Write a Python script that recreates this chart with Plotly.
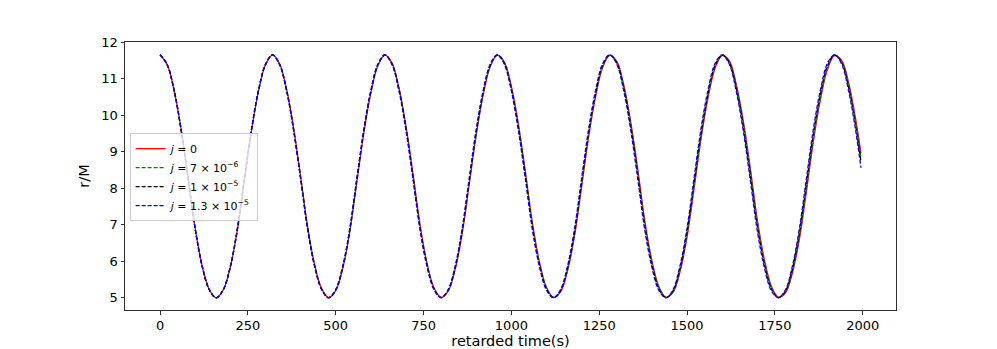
import plotly.graph_objects as go

# sample times (retarded time, s)
t = list(range(0, 1981, 20)) + [1995]

r_j0 = [11.650, 11.388, 10.680, 9.603, 8.275, 6.900, 5.869, 5.233, 5.001, 5.216,
        5.837, 6.852, 8.219, 9.554, 10.642, 11.369, 11.646, 11.408, 10.714, 9.651,
        8.331, 6.947, 5.906, 5.251, 5.005, 5.199, 5.806, 6.806, 8.161, 9.507,
        10.602, 11.349, 11.642, 11.428, 10.748, 9.699, 8.387, 6.994, 5.942, 5.268,
        5.009, 5.182, 5.776, 6.758, 8.103, 9.459, 10.562, 11.329, 11.639, 11.449,
        10.782, 9.748, 8.442, 7.042, 5.979, 5.285, 5.012, 5.165, 5.746, 6.711,
        8.044, 9.410, 10.522, 11.310, 11.634, 11.469, 10.816, 9.796, 8.498, 7.089,
        6.015, 5.302, 5.016, 5.147, 5.716, 6.663, 7.986, 9.363, 10.483, 11.290,
        11.630, 11.488, 10.849, 9.843, 8.553, 7.138, 6.052, 5.322, 5.019, 5.134,
        5.685, 6.619, 7.928, 9.310, 10.443, 11.263, 11.626, 11.500, 10.883, 9.887,
        8.950]

r_j7e6 = [11.650, 11.388, 10.679, 9.600, 8.271, 6.895, 5.865, 5.230, 5.001, 5.219,
          5.844, 6.863, 8.232, 9.567, 10.652, 11.375, 11.646, 11.401, 10.701, 9.632,
          8.309, 6.926, 5.891, 5.242, 5.004, 5.207, 5.823, 6.832, 8.192, 9.536,
          10.625, 11.362, 11.643, 11.416, 10.724, 9.665, 8.347, 6.956, 5.915, 5.253,
          5.008, 5.195, 5.804, 6.800, 8.152, 9.505, 10.598, 11.350, 11.641, 11.432,
          10.747, 9.698, 8.384, 6.988, 5.939, 5.263, 5.009, 5.182, 5.783, 6.767,
          8.111, 9.473, 10.571, 11.339, 11.638, 11.447, 10.770, 9.731, 8.421, 7.018,
          5.963, 5.273, 5.011, 5.168, 5.763, 6.734, 8.071, 9.443, 10.546, 11.328,
          11.637, 11.462, 10.793, 9.764, 8.458, 7.050, 5.987, 5.285, 5.013, 5.159,
          5.741, 6.704, 8.031, 9.407, 10.519, 11.310, 11.636, 11.470, 10.817, 9.796,
          8.837]

r_j1e5 = [11.650, 11.387, 10.677, 9.597, 8.266, 6.890, 5.861, 5.228, 5.001, 5.222,
          5.851, 6.874, 8.246, 9.581, 10.663, 11.382, 11.647, 11.394, 10.687, 9.613,
          8.285, 6.904, 5.875, 5.233, 5.004, 5.216, 5.841, 6.860, 8.225, 9.567,
          10.649, 11.376, 11.644, 11.403, 10.698, 9.629, 8.305, 6.918, 5.886, 5.237,
          5.006, 5.209, 5.832, 6.842, 8.203, 9.552, 10.635, 11.372, 11.644, 11.414,
          10.710, 9.647, 8.323, 6.931, 5.899, 5.240, 5.006, 5.200, 5.822, 6.826,
          8.181, 9.538, 10.621, 11.369, 11.643, 11.424, 10.723, 9.665, 8.343, 6.944,
          5.909, 5.242, 5.007, 5.190, 5.811, 6.807, 8.159, 9.526, 10.610, 11.366,
          11.644, 11.435, 10.735, 9.682, 8.361, 6.958, 5.920, 5.246, 5.005, 5.184,
          5.798, 6.792, 8.137, 9.507, 10.598, 11.358, 11.646, 11.439, 10.749, 9.703,
          8.720]

r_j13e6 = [11.650, 11.387, 10.675, 9.593, 8.260, 6.883, 5.855, 5.224, 5.001, 5.227,
           5.860, 6.889, 8.265, 9.599, 10.678, 11.391, 11.647, 11.385, 10.669, 9.586,
           8.254, 6.874, 5.853, 5.221, 5.003, 5.228, 5.866, 6.897, 8.269, 9.608,
           10.681, 11.395, 11.646, 11.386, 10.664, 9.581, 8.248, 6.865, 5.848, 5.216,
           5.004, 5.227, 5.871, 6.901, 8.273, 9.617, 10.685, 11.401, 11.647, 11.389,
           10.660, 9.577, 8.241, 6.855, 5.843, 5.209, 5.002, 5.225, 5.874, 6.905,
           8.275, 9.626, 10.690, 11.410, 11.649, 11.393, 10.658, 9.574, 8.235, 6.844,
           5.836, 5.201, 5.000, 5.220, 5.876, 6.906, 8.279, 9.638, 10.698, 11.419,
           11.650, 11.398, 10.656, 9.571, 8.228, 6.834, 5.829, 5.194, 5.001, 5.219,
           5.876, 6.911, 8.282, 9.644, 10.705, 11.424, 11.650, 11.397, 10.657, 9.575,
           8.560]

labels = ["<i>j</i> = 0",
          "<i>j</i> = 7 × 10<sup>−6</sup>",
          "<i>j</i> = 1 × 10<sup>−5</sup>",
          "<i>j</i> = 1.3 × 10<sup>−5</sup>"]
series = [r_j0, r_j7e6, r_j1e5, r_j13e6]
colors = ["#ff0000", "#008000", "#000000", "#0000ff"]
dashes = ["solid", "4px,2px", "4px,2px", "4px,2px"]

fig = go.Figure()
for name, y, c, d in zip(labels, series, colors, dashes):
    fig.add_trace(go.Scatter(x=t, y=y, mode="lines", name=name,
                             line=dict(color=c, width=1.3, dash=d, shape="spline",
                                       smoothing=1.0)))

axis_common = dict(showgrid=False, zeroline=False, showline=True, linecolor="#333333",
                   linewidth=1, mirror=True, ticks="outside", ticklen=3.5,
                   tickcolor="#333333", tickfont=dict(family="DejaVu Sans", size=13, color="#000"))

fig.update_layout(
    width=997, height=349,
    margin=dict(l=125, r=101, t=42, b=39, autoexpand=False),
    paper_bgcolor="white", plot_bgcolor="white",
    font=dict(family="DejaVu Sans", color="#000"),
    xaxis=dict(range=[-99.75, 2094.75], tickvals=[0, 250, 500, 750, 1000, 1250, 1500, 1750, 2000],
               title=dict(text="retarded time(s)", font=dict(size=14.5), standoff=4), **axis_common),
    yaxis=dict(range=[4.6667, 12.0], tickvals=[5, 6, 7, 8, 9, 10, 11, 12],
               title=dict(text="r/M", font=dict(size=14.5), standoff=8), **axis_common),
    legend=dict(x=0.006, y=0.66, xanchor="left", yanchor="top",
                bgcolor="rgba(255,255,255,0.8)", bordercolor="#cccccc", borderwidth=1,
                font=dict(family="DejaVu Sans", size=11), itemwidth=30,
                tracegroupgap=0),
    showlegend=True,
)

fig.write_html("out.html", config={"displayModeBar": False},
               post_script="document.body.style.margin='0';document.body.style.padding='0';")
